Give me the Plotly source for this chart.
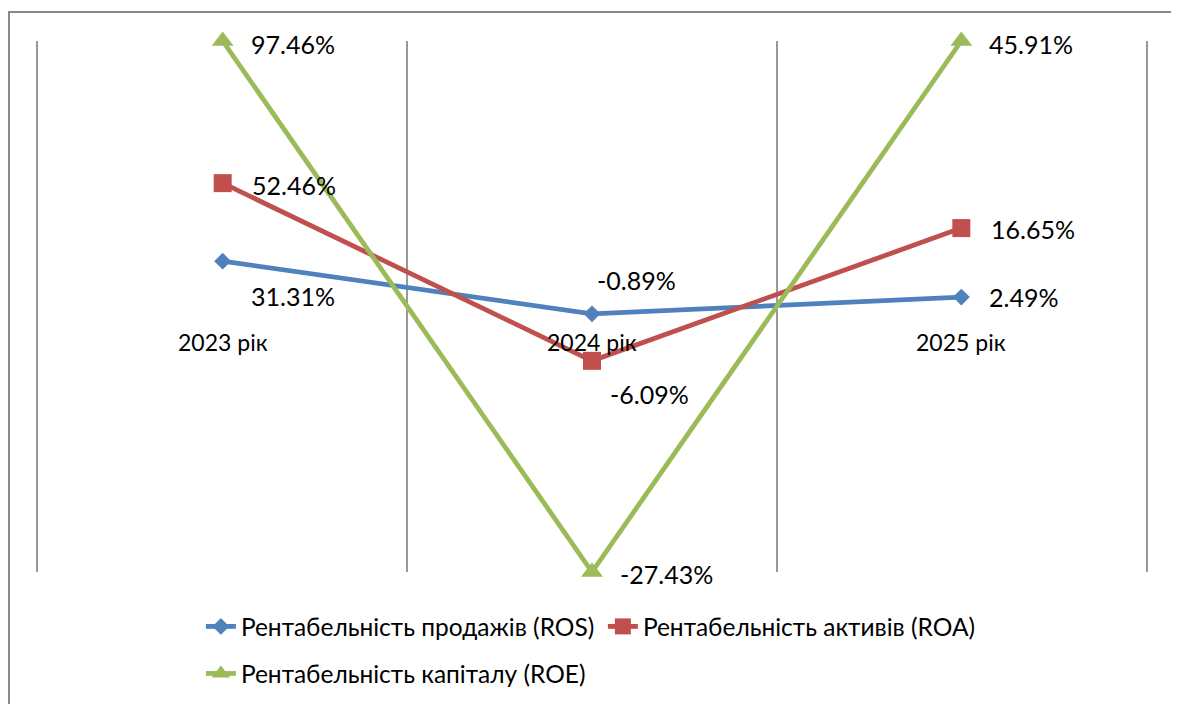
import plotly.graph_objects as go

# Categories
years = ["2023 рік", "2024 рік", "2025 рік"]

# Series names
names = ["Рентабельність продажів (ROS)",
         "Рентабельність активів (ROA)",
         "Рентабельність капіталу (ROE)"]

# Data labels as printed on the chart (%)
ros_labels = [31.31, -0.89, 2.49]
roa_labels = [52.46, -6.09, 16.65]
roe_labels = [97.46, -27.43, 45.91]

# Plotted values (hidden value axis, -30..100)
ros_plot = [46.1, 33.2, 37.3]
roa_plot = [65.2, 21.7, 54.2]
roe_plot = [100.0, -30.0, 100.0]

# Level of the category axis labels on the hidden value axis
cat_level = 26.3

colors = ["#4F81BD", "#C0504D", "#9BBB59"]
symbols = ["diamond", "square", "triangle-up"]
msizes = [13, 18, 19]
FONT = "Lato"

fig = go.Figure()
plots = [ros_plot, roa_plot, roe_plot]
labels = [ros_labels, roa_labels, roe_labels]
legends = ["legend", "legend", "legend2"]
for i in range(3):
    fig.add_trace(go.Scatter(
        x=list(range(3)), y=plots[i], name=names[i], mode="lines+markers",
        line=dict(color=colors[i], width=4.8),
        marker=dict(symbol=symbols[i], size=msizes[i], color=colors[i]),
        cliponaxis=False, legend=legends[i]))

# label offsets (style): (xshift, yshift)
shifts = [
    [(26, -35), (3, 34), (26, 0)],
    [(27, -2), (16, -33), (28, -1)],
    [(26, -3), (26, -2), (26, -3)],
]
annots = []
for i in range(3):
    for j in range(3):
        annots.append(dict(x=j, y=plots[i][j], xref="x", yref="y",
                           text=f"{labels[i][j]:.2f}%", showarrow=False,
                           xanchor="left", yanchor="middle",
                           xshift=shifts[i][j][0], yshift=shifts[i][j][1],
                           font=dict(size=25, color="black", family=FONT)))
for j, yr in enumerate(years):
    annots.append(dict(x=j, y=cat_level, xref="x", yref="y", text=yr,
                       showarrow=False, xanchor="center", yanchor="middle",
                       font=dict(size=23, color="black", family=FONT)))

fig.update_layout(
    width=1171, height=696,
    margin=dict(l=30, r=33, t=33, b=132, autoexpand=False),
    paper_bgcolor="white", plot_bgcolor="white",
    font=dict(family=FONT, size=22, color="black"),
    annotations=annots,
    xaxis=dict(range=[-0.5, 2.5], tickmode="array", tickvals=[0.5, 1.5],
               showticklabels=False, showgrid=True, gridcolor="#999999", gridwidth=1.5,
               zeroline=False, showline=False, ticks=""),
    yaxis=dict(range=[-30, 100], showticklabels=False, showgrid=False, zeroline=False,
               ticks="", showline=True, mirror=True, linecolor="#999999", linewidth=1.5),
    legend=dict(orientation="h", x=0.147, y=0.1437, yref="container",
                xanchor="left", yanchor="top",
                entrywidth=357, entrywidthmode="pixels",
                font=dict(size=24.5, family=FONT, color="black"), bgcolor="rgba(0,0,0,0)"),
    legend2=dict(orientation="h", x=0.147, y=0.0761, yref="container",
                 xanchor="left", yanchor="top",
                 font=dict(size=24.5, family=FONT, color="black"), bgcolor="rgba(0,0,0,0)"),
    showlegend=True,
    shapes=[dict(type="rect", xref="paper", yref="paper",
                 x0=-0.0262, x1=1.0262, y0=-0.3, y1=1.0546,
                 line=dict(color="#888888", width=2), fillcolor="rgba(0,0,0,0)", layer="below")],
)

fig.write_html("out.html")
